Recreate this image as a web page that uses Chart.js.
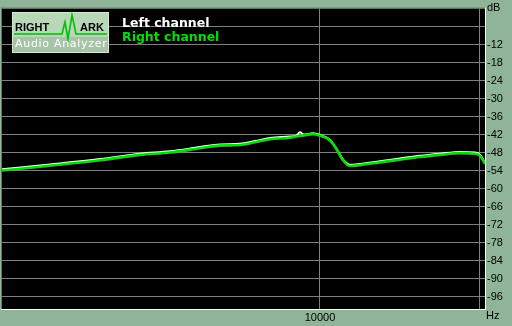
<!DOCTYPE html>
<html><head><meta charset="utf-8">
<script src="https://cdn.jsdelivr.net/npm/chart.js@4/dist/chart.umd.min.js"></script>
<style>html,body{margin:0;padding:0;background:#8fb498;}canvas{display:block}</style>
</head><body>
<canvas id="c" width="512" height="326"></canvas>
<script>
// Frequency (Hz) of each sampled point
const freqHz = [2522, 3105, 3856, 4585, 5222, 5946, 6482, 7071, 7545, 8053, 8780, 9022, 9170, 9330, 9701, 10000, 10443, 10763, 11045, 11387, 11892, 12970, 14140, 15425, 16818, 18341, 19566, 20000, 20440];
// Left channel level (dB)
const leftDb = [-53.5, -51.9, -50.1, -48.3, -47.5, -46.1, -45.2, -45.0, -44.1, -43.1, -42.6, -42.3, -41.2, -41.9, -41.5, -42.0, -43.7, -46.9, -50.2, -52.0, -51.7, -50.8, -49.9, -49.0, -48.3, -47.7, -47.9, -48.6, -51.4];
// Right channel level (dB)
const rightDb = [-53.9, -52.3, -50.5, -48.7, -47.9, -46.5, -45.6, -45.4, -44.5, -43.5, -43.0, -42.6, -42.4, -42.2, -41.8, -42.3, -43.9, -47.1, -50.5, -52.4, -52.1, -51.2, -50.3, -49.4, -48.7, -48.1, -48.3, -49.0, -51.7];

const seriesNames = ['Left channel', 'Right channel'];
const xTickValues = [10000, 20000];
const xTickLabels = ['10000', ''];
const yTickValues = [-6, -12, -18, -24, -30, -36, -42, -48, -54, -60, -66, -72, -78, -84, -90, -96];
const yTickLabels = ['', '-12', '-18', '-24', '-30', '-36', '-42', '-48', '-54', '-60', '-66', '-72', '-78', '-84', '-90', '-96'];
const yUnit = 'dB';
const xUnit = 'Hz';
const logoTop = 'RIGHT';
const logoTop2 = 'ARK';
const logoBottom = 'Audio Analyzer';

const PAGE_BG = '#8fb498';
const TICK_FONT = {family: '"Liberation Sans", Arial, sans-serif', size: 11};

const decor = {
  id: 'decor',
  beforeDraw(chart) {
    const ctx = chart.ctx, a = chart.chartArea;
    ctx.save();
    ctx.fillStyle = PAGE_BG;
    ctx.fillRect(0, 0, chart.width, chart.height);
    ctx.fillStyle = '#000';
    ctx.fillRect(a.left, a.top, a.right - a.left, a.bottom - a.top);
    ctx.restore();
  },
  afterDraw(chart) {
    const ctx = chart.ctx, a = chart.chartArea;
    ctx.save();
    // sunken border
    ctx.fillStyle = '#5d7d62';
    ctx.fillRect(a.left - 1, a.top - 1, a.right - a.left + 1, 1);
    ctx.fillRect(a.left - 1, a.top - 1, 1, a.bottom - a.top + 1);
    ctx.fillStyle = '#fff';
    ctx.fillRect(a.right, a.top - 1, 1, a.bottom - a.top + 2);
    ctx.fillRect(a.left - 1, a.bottom, a.right - a.left + 2, 1);

    // unit labels
    ctx.fillStyle = '#000';
    ctx.font = '11px "Liberation Sans", Arial, sans-serif';
    ctx.textBaseline = 'middle';
    ctx.textAlign = 'left';
    ctx.fillText(yUnit, a.right + 2, 8);
    ctx.fillText(xUnit, a.right + 1, 316);

    // logo box
    ctx.fillStyle = '#d6e6d6';
    ctx.fillRect(12, 12, 97, 41);
    ctx.fillStyle = '#b7d7b7';
    ctx.fillRect(13, 13, 95, 24);
    ctx.fillStyle = '#a6c4a6';
    ctx.fillRect(13, 37, 95, 15);
    ctx.fillStyle = '#000';
    ctx.textBaseline = 'alphabetic';
    ctx.font = 'bold 11px "Liberation Sans", Arial, sans-serif';
    ctx.fillText(logoTop, 15, 30.5);
    ctx.fillText(logoTop2, 80, 30.5);
    ctx.strokeStyle = '#00c000';
    ctx.lineWidth = 1.6;
    ctx.beginPath();
    ctx.moveTo(14, 34); ctx.lineTo(62, 34); ctx.lineTo(65, 22); ctx.lineTo(68, 39);
    ctx.lineTo(72, 15); ctx.lineTo(76, 34); ctx.lineTo(107, 34);
    ctx.stroke();
    ctx.fillStyle = '#fff';
    ctx.font = '11px "DejaVu Sans", sans-serif';
    try { ctx.letterSpacing = '0.7px'; } catch (e) {}
    ctx.fillText(logoBottom, 15, 47);
    try { ctx.letterSpacing = '0px'; } catch (e) {}

    // legend
    ctx.font = 'bold 12.5px "DejaVu Sans", sans-serif';
    ctx.fillStyle = '#ffffff';
    ctx.fillText(seriesNames[0], 122, 26.5);
    ctx.fillStyle = '#00e000';
    ctx.fillText(seriesNames[1], 122, 40.5);
    ctx.restore();
  }
};

new Chart(document.getElementById('c'), {
  type: 'line',
  data: {
    datasets: [
      {label: seriesNames[0], order: 2, data: freqHz.map((f, i) => ({x: f, y: leftDb[i]})),
       borderColor: '#ffffff', borderWidth: 2, pointRadius: 0, cubicInterpolationMode: 'monotone', fill: false},
      {label: seriesNames[1], order: 1, data: freqHz.map((f, i) => ({x: f, y: rightDb[i]})),
       borderColor: '#00e000', borderWidth: 2.6, pointRadius: 0, cubicInterpolationMode: 'monotone', fill: false}
    ]
  },
  options: {
    responsive: false,
    animation: false,
    devicePixelRatio: 1,
    layout: {padding: {left: 2, top: 2, right: 0, bottom: 0}},
    plugins: {legend: {display: false}, tooltip: {enabled: false}},
    scales: {
      x: {
        type: 'logarithmic', min: 2522, max: 20440, position: 'bottom',
        afterBuildTicks(s) { s.ticks = xTickValues.map(v => ({value: v})); },
        afterFit(s) { s.height = 17; },
        grid: {color: '#808080', lineWidth: 1, drawTicks: false},
        border: {display: false},
        ticks: {autoSkip: false, maxRotation: 0, padding: 2, color: '#000', font: TICK_FONT,
                callback: (v, i) => xTickLabels[i]}
      },
      y: {
        type: 'linear', min: -100, max: 0, position: 'right',
        afterBuildTicks(s) { s.ticks = yTickValues.map(v => ({value: v})); },
        afterFit(s) { s.width = 27; },
        grid: {color: '#808080', lineWidth: 1, drawTicks: false},
        border: {display: false},
        ticks: {autoSkip: false, padding: 2, color: '#000', font: TICK_FONT,
                callback: (v, i) => yTickLabels[i]}
      }
    }
  },
  plugins: [decor]
});
</script>
</body></html>
